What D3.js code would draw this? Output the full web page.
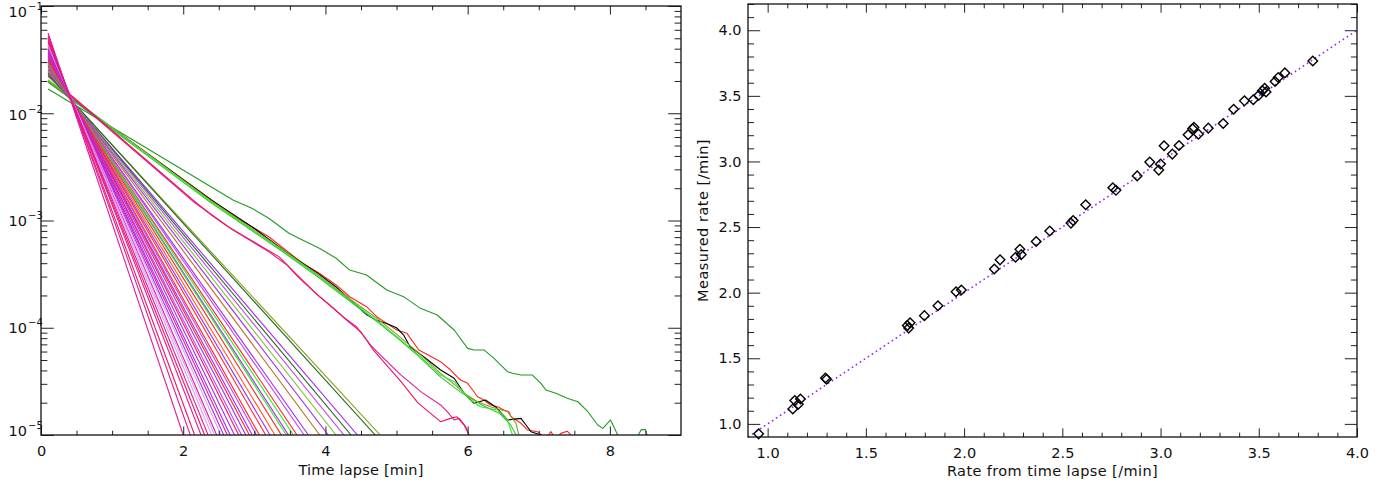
<!DOCTYPE html>
<html><head><meta charset="utf-8">
<script src="https://cdn.jsdelivr.net/npm/d3@7"></script>
<style>
body{margin:0;background:#fff}
text{font-family:"DejaVu Sans",sans-serif;fill:#111}
</style>
</head><body>
<svg id="chart" width="1397" height="488"></svg>
<script>
// ---------------- DATA ----------------
// Left panel: decay curves (value at t = 0.1 min, time where the curve reaches 1e-5)
const MAG="#dc1c98", CRIM="#f3125c", LV="#d8a4f4", PUR="#a42af2", VIO="#c046f4",
      RED="#ff2222", ORG="#ff5a1e", LIME="#2ee82e", BRN="#b4741c", YGRN="#78c82a",
      DKG="#1e6a1e", OLG="#84a01c", GRN="#229a22", MGRN="#3cc03c", BLK="#000000";

const fastColors = [MAG,MAG,CRIM,MAG,CRIM,MAG,LV,LV,MAG,LV,PUR,MAG,PUR,PUR,CRIM,VIO,PUR,RED,PUR,VIO,
                    RED,RED,PUR,ORG,RED,LIME,PUR,LIME,RED,VIO,PUR,BRN,PUR,YGRN,VIO,DKG,PUR,DKG,OLG];
const fastStart = [0.056,0.053,0.051,0.049,0.047,0.046,0.045,0.044,0.043,0.042,0.041,0.040,0.039,0.038,0.037,
                   0.036,0.0355,0.035,0.034,0.0335,0.033,0.032,0.0315,0.031,0.030,0.0295,0.029,0.0285,0.028,
                   0.0275,0.027,0.026,0.0255,0.025,0.0245,0.024,0.0235,0.023,0.0225];
const fastEnd = [2.00,2.10,2.16,2.25,2.30,2.35,2.40,2.44,2.47,2.53,2.57,2.62,2.66,2.72,2.78,2.82,2.88,2.93,2.97,
                 3.03,3.07,3.16,3.22,3.29,3.38,3.45,3.48,3.55,3.60,3.70,3.76,3.92,4.04,4.15,4.26,4.36,4.45,4.70,4.77];

// Slow curves: colour, start value, then read points [t, log10(value)]
const slowColors = [CRIM, MAG, LIME, OLG, MGRN, BLK, RED, GRN];
const slowStart  = [0.0225, 0.0220, 0.0205, 0.0200, 0.0195, 0.0195, 0.0200, 0.0168];
const crimPath  = [[2.135,-2.809],[2.396,-2.949],[2.632,-3.058],[2.870,-3.151],[3.107,-3.244],[3.345,-3.337],
                   [3.534,-3.462],[3.676,-3.555],[3.866,-3.679],[4.056,-3.788],[4.245,-3.897],[4.435,-3.990],
                   [4.578,-4.114],[4.672,-4.207],[5.06,-4.50],[5.30,-4.70],[5.62,-4.876],[5.76,-4.845],
                   [5.85,-4.83],[5.95,-4.907],[6.02,-5.0]];
const magPath   = [[2.135,-2.82],[2.45,-2.97],[2.70,-3.09],[2.95,-3.19],[3.20,-3.29],[3.45,-3.41],[3.62,-3.53],
                   [3.90,-3.70],[4.10,-3.81],[4.30,-3.93],[4.50,-4.04],[4.62,-4.15],[4.72,-4.22],[5.06,-4.44],
                   [5.35,-4.60],[5.62,-4.72],[5.71,-4.78],[5.81,-4.86],[5.88,-4.845],[5.97,-4.92],[6.02,-5.0]];
const limePath  = [[2.40,-2.83],[3.00,-3.10],[3.44,-3.30],[3.90,-3.52],[4.34,-3.74],[4.72,-3.93],[5.00,-4.08],
                   [5.30,-4.25],[5.62,-4.441],[5.81,-4.503],[6.04,-4.674],[6.18,-4.736],[6.42,-4.767],[6.56,-4.86],[6.63,-5.0]];
const olivePath = [[2.40,-2.82],[3.00,-3.09],[3.44,-3.29],[3.90,-3.51],[4.34,-3.73],[4.72,-3.91],[5.00,-4.06],
                   [5.30,-4.23],[5.62,-4.425],[5.85,-4.549],[5.95,-4.611],[6.14,-4.69],[6.32,-4.736],[6.56,-4.783],
                   [6.68,-4.891],[6.72,-5.0]];
const greenPath = [[2.40,-2.84],[3.00,-3.11],[3.44,-3.31],[3.90,-3.53],[4.34,-3.75],[4.72,-3.94],[5.00,-4.09],
                   [5.30,-4.26],[5.62,-4.46],[5.90,-4.60],[6.20,-4.72],[6.45,-4.80],[6.60,-4.90],[6.68,-5.0]];
const blackPath = [[2.40,-2.81],[2.97,-3.06],[3.44,-3.29],[3.91,-3.50],[4.15,-3.62],[4.58,-3.88],[4.72,-3.93],
                   [4.86,-3.96],[5.00,-4.00],[5.10,-4.068],[5.19,-4.177],[5.40,-4.28],[5.62,-4.394],[5.81,-4.471],
                   [5.95,-4.611],[6.09,-4.704],[6.25,-4.674],[6.39,-4.736],[6.56,-4.86],[6.75,-4.845],[6.82,-4.907],
                   [6.89,-4.969],[7.03,-5.0]];
const redPath   = [[2.396,-2.809],[2.728,-2.965],[2.965,-3.058],[3.203,-3.151],[3.44,-3.275],[3.676,-3.399],
                   [3.914,-3.492],[4.151,-3.601],[4.341,-3.711],[4.578,-3.804],[4.72,-3.897],[4.862,-3.959],
                   [5.004,-4.021],[5.146,-4.052],[5.313,-4.207],[5.62,-4.316],[5.76,-4.394],[5.85,-4.456],
                   [5.90,-4.487],[6.00,-4.518],[6.07,-4.58],[6.14,-4.643],[6.23,-4.674],[6.32,-4.72],[6.42,-4.736],
                   [6.51,-4.767],[6.58,-4.783],[6.61,-4.829],[6.75,-4.891],[6.84,-4.953],[6.98,-4.969],[7.03,-4.994],
                   [7.10,-5.04],[7.17,-4.969],[7.24,-5.04],[7.31,-4.985],[7.40,-4.965],[7.45,-5.0]];
const slowestPath = [[2.70,-2.809],[2.965,-2.886],[3.203,-2.979],[3.487,-3.119],[3.676,-3.182],[3.914,-3.259],
                   [4.151,-3.352],[4.341,-3.462],[4.578,-3.508],[4.862,-3.648],[5.099,-3.710],[5.336,-3.819],
                   [5.573,-3.881],[5.81,-4.021],[6.00,-4.192],[6.09,-4.207],[6.23,-4.207],[6.37,-4.285],[6.56,-4.41],
                   [6.63,-4.425],[6.75,-4.441],[6.91,-4.441],[7.03,-4.518],[7.10,-4.58],[7.24,-4.611],[7.40,-4.658],
                   [7.55,-4.69],[7.69,-4.783],[7.83,-4.907],[7.90,-4.938],[8.01,-4.86],[8.11,-5.0],[8.25,-5.12],
                   [8.40,-5.0],[8.44,-4.95],[8.50,-4.95],[8.53,-5.02]];
const slowPaths = [crimPath, magPath, limePath, olivePath, greenPath, blackPath, redPath, slowestPath];
const startTime = 0.1;

const leftXTicks = [0,2,4,6,8];
const leftXMinor = [0.5,1,1.5,2.5,3,3.5,4.5,5,5.5,6.5,7,7.5,8.5];
const leftYExps  = [-1,-2,-3,-4,-5];

// Right panel: rate comparison
const rateTimeLapse = [0.954,1.128,1.138,1.156,1.167,1.294,1.300,1.711,1.718,1.725,1.798,1.867,1.959,1.986,2.154,
  2.183,2.262,2.284,2.291,2.367,2.436,2.544,2.555,2.619,2.757,2.773,2.881,2.945,2.991,3.000,3.018,3.060,3.094,
  3.140,3.163,3.170,3.193,3.243,3.319,3.372,3.427,3.472,3.500,3.518,3.530,3.537,3.583,3.599,3.633,3.775];
const rateMeasured = [0.924,1.114,1.178,1.150,1.190,1.350,1.340,1.750,1.730,1.770,1.825,1.900,2.007,2.020,2.180,
  2.250,2.270,2.330,2.290,2.390,2.470,2.530,2.550,2.670,2.800,2.780,2.890,2.995,2.934,2.980,3.120,3.056,3.122,
  3.203,3.249,3.260,3.208,3.254,3.289,3.398,3.462,3.470,3.505,3.538,3.558,3.530,3.609,3.640,3.675,3.766];
const identityLine = [0.9, 4.0];
const rightXTicks = [1.0,1.5,2.0,2.5,3.0,3.5,4.0];
const rightYTicks = [1.0,1.5,2.0,2.5,3.0,3.5,4.0];

// ---------------- DRAW ----------------
const svg = d3.select("#chart");
svg.append("rect").attr("width",1397).attr("height",488).attr("fill","#fff");

const L = {x0:41, x1:681, y0:6, y1:435};
const R = {x0:748, x1:1357, y0:4, y1:437};
const xL = d3.scaleLinear([0,9],[L.x0,L.x1]);
const yL = d3.scaleLog([1e-5,1e-1],[L.y1,L.y0]);
const xR = d3.scaleLinear([0.9,4.0],[R.x0,R.x1]);
const yR = d3.scaleLinear([0.9,4.2],[R.y1,R.y0]);

const defs = svg.append("defs");
defs.append("clipPath").attr("id","clipL").append("rect")
  .attr("x",L.x0).attr("y",L.y0).attr("width",L.x1-L.x0).attr("height",L.y1-L.y0);

// curves
const curves = [];
fastColors.forEach((c,i)=>curves.push({color:c, pts:[[startTime,fastStart[i]],[fastEnd[i],1e-5]]}));
slowColors.forEach((c,i)=>curves.push({color:c, pts:[[startTime,slowStart[i]]].concat(slowPaths[i].map(p=>[p[0],Math.pow(10,p[1])]))}));
const lineL = d3.line().x(d=>xL(d[0])).y(d=>yL(d[1]));
const gc = svg.append("g").attr("clip-path","url(#clipL)");
curves.slice().reverse().forEach(c=>{
  gc.append("path").attr("d",lineL(c.pts)).attr("fill","none").attr("stroke",c.color)
    .attr("stroke-width",1.1).attr("stroke-linejoin","round");
});

function styleAxis(g){ g.select(".domain").remove(); g.selectAll("line").attr("stroke","#222").attr("stroke-width",1); g.attr("font-family",null).attr("font-size",null); }

// left axes
const tlx = 0.02*(L.y1-L.y0), tly = 0.02*(L.x1-L.x0);
svg.append("g").attr("transform",`translate(0,${L.y1})`).call(d3.axisBottom(xL).tickValues(leftXTicks).tickSize(-tlx).tickPadding(11).tickFormat(d3.format("d"))).call(styleAxis).selectAll("text").attr("font-size",14.5).attr("dy","0.71em");
svg.append("g").attr("transform",`translate(0,${L.y1})`).call(d3.axisBottom(xL).tickValues(leftXMinor).tickSize(-tlx/2).tickFormat("")).call(styleAxis);
svg.append("g").attr("transform",`translate(0,${L.y0})`).call(d3.axisTop(xL).tickValues(leftXTicks).tickSize(-tlx).tickFormat("")).call(styleAxis);
svg.append("g").attr("transform",`translate(0,${L.y0})`).call(d3.axisTop(xL).tickValues(leftXMinor).tickSize(-tlx/2).tickFormat("")).call(styleAxis);
const majL = leftYExps.map(e=>Math.pow(10,e));
const minL = [];
[-5,-4,-3,-2].forEach(e=>{for(let k=2;k<=9;k++) minL.push(k*Math.pow(10,e));});
svg.append("g").attr("transform",`translate(${L.x0},0)`).call(d3.axisLeft(yL).tickValues(majL).tickSize(-tly).tickFormat("")).call(styleAxis);
svg.append("g").attr("transform",`translate(${L.x0},0)`).call(d3.axisLeft(yL).tickValues(minL).tickSize(-tly/2).tickFormat("")).call(styleAxis);
svg.append("g").attr("transform",`translate(${L.x1},0)`).call(d3.axisRight(yL).tickValues(majL).tickSize(-tly).tickFormat("")).call(styleAxis);
svg.append("g").attr("transform",`translate(${L.x1},0)`).call(d3.axisRight(yL).tickValues(minL).tickSize(-tly/2).tickFormat("")).call(styleAxis);
const labOff = {"-1":11, "-2":6.5, "-3":5.5, "-4":5.5, "-5":1};
leftYExps.forEach(e=>{
  const y = yL(Math.pow(10,e)) + labOff[e];
  svg.append("text").attr("x",27).attr("y",y).attr("text-anchor","end").attr("font-size",14.5).text("10");
  svg.append("text").attr("x",28).attr("y",y-7).attr("font-size",10).text("\u2212"+(-e));
});
svg.append("rect").attr("x",L.x0).attr("y",L.y0).attr("width",L.x1-L.x0).attr("height",L.y1-L.y0)
  .attr("fill","none").attr("stroke","#111").attr("stroke-width",1.3);
svg.append("text").attr("x",(L.x0+L.x1)/2).attr("y",475).attr("text-anchor","middle").attr("font-size",14.5)
  .attr("letter-spacing",0.2).text("Time lapse [min]");

// right panel
const trx = 0.02*(R.y1-R.y0), trY = 0.02*(R.x1-R.x0);
const rxMinor = d3.range(10,41).map(v=>v/10).filter(v=>Math.abs(v*2-Math.round(v*2))>1e-6);
const ryMinor = d3.range(10,43).map(v=>v/10).filter(v=>Math.abs(v*2-Math.round(v*2))>1e-6);
const f1 = d3.format(".1f");
svg.append("g").attr("transform",`translate(0,${R.y1})`).call(d3.axisBottom(xR).tickValues(rightXTicks).tickSize(-trx).tickPadding(11).tickFormat(f1)).call(styleAxis).selectAll("text").attr("font-size",14.5);
svg.append("g").attr("transform",`translate(0,${R.y1})`).call(d3.axisBottom(xR).tickValues(rxMinor).tickSize(-trx/2).tickFormat("")).call(styleAxis);
svg.append("g").attr("transform",`translate(0,${R.y0})`).call(d3.axisTop(xR).tickValues(rightXTicks).tickSize(-trx).tickFormat("")).call(styleAxis);
svg.append("g").attr("transform",`translate(0,${R.y0})`).call(d3.axisTop(xR).tickValues(rxMinor).tickSize(-trx/2).tickFormat("")).call(styleAxis);
svg.append("g").attr("transform",`translate(${R.x0},0)`).call(d3.axisLeft(yR).tickValues(rightYTicks).tickSize(-trY).tickPadding(6.5).tickFormat(f1)).call(styleAxis).selectAll("text").attr("font-size",14.5);
svg.append("g").attr("transform",`translate(${R.x0},0)`).call(d3.axisLeft(yR).tickValues(ryMinor).tickSize(-trY/2).tickFormat("")).call(styleAxis);
svg.append("g").attr("transform",`translate(${R.x1},0)`).call(d3.axisRight(yR).tickValues(rightYTicks).tickSize(-trY).tickFormat("")).call(styleAxis);
svg.append("g").attr("transform",`translate(${R.x1},0)`).call(d3.axisRight(yR).tickValues(ryMinor).tickSize(-trY/2).tickFormat("")).call(styleAxis);

svg.append("path").attr("d",d3.line().x(d=>xR(d)).y(d=>yR(d))(identityLine))
  .attr("fill","none").attr("stroke","#a020f0").attr("stroke-width",1.6).attr("stroke-dasharray","1.6,3.2");

const r = 4.8;
svg.append("g").selectAll("path").data(rateTimeLapse).join("path")
  .attr("d",(d,i)=>{const p=d3.path(), x=xR(d), y=yR(rateMeasured[i]); p.moveTo(x,y-r); p.lineTo(x+r,y); p.lineTo(x,y+r); p.lineTo(x-r,y); p.closePath(); return p.toString();})
  .attr("fill","none").attr("stroke","#000").attr("stroke-width",1.4);

svg.append("rect").attr("x",R.x0).attr("y",R.y0).attr("width",R.x1-R.x0).attr("height",R.y1-R.y0)
  .attr("fill","none").attr("stroke","#111").attr("stroke-width",1.3);
svg.append("text").attr("x",(R.x0+R.x1)/2).attr("y",476).attr("text-anchor","middle").attr("font-size",14.5)
  .attr("letter-spacing",0.4).text("Rate from time lapse [/min]");
svg.append("text").attr("transform",`translate(708,${(R.y0+R.y1)/2}) rotate(-90)`).attr("text-anchor","middle").attr("font-size",14.5)
  .attr("letter-spacing",0.5).text("Measured rate [/min]");
</script>
</body></html>
